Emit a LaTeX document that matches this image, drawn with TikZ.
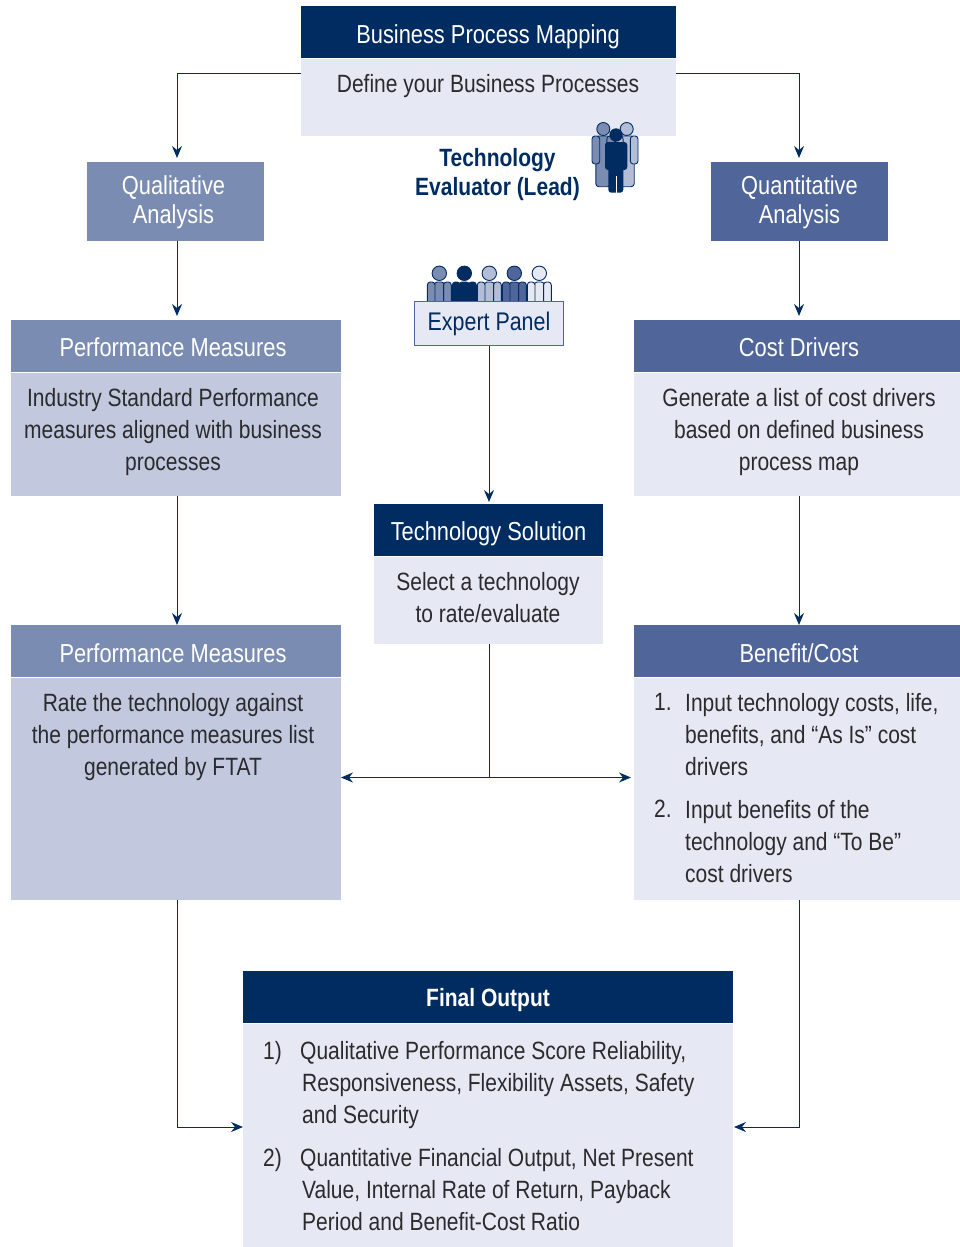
\documentclass[tikz,border=0pt]{standalone}
\usepackage{fontspec}
\setmainfont[FakeStretch=0.84]{Liberation Sans}
\usetikzlibrary{arrows.meta,positioning}
\definecolor{navy}{HTML}{002C62}
\definecolor{midblue}{HTML}{7B8CB3}
\definecolor{deepblue}{HTML}{50669A}
\definecolor{softblue}{HTML}{B3BDD6}
\definecolor{greyblue}{HTML}{C2C9DE}
\definecolor{paleblue}{HTML}{E6E9F3}
\definecolor{ink}{HTML}{2B2B2E}
\tikzset{
	>={Stealth[length=12pt,width=10pt,inset=4pt]},
	box/.style={inner sep=0pt,outer sep=0pt,anchor=center},
	head/.style={text=white,font=\fontsize{26}{29}\selectfont,align=center},
	txt/.style={text=ink,font=\fontsize{25}{32}\selectfont,align=center,inner sep=0pt},
	itemtxt/.style={txt,align=left,anchor=north west},
	conn/.style={draw=navy,line width=1pt},
	figure/.style={draw=navy,line width=0.9pt}
}
% one seated panel member, x of the head centre as #1
\newcommand{\panelman}[2]{
	\filldraw[fill=#2,figure,rounded corners=3pt] (#1-5,282) rectangle (#1+5,308);
	\filldraw[fill=#2,figure,rounded corners=3pt] (#1-12,282) rectangle (#1-4.3,308);
	\filldraw[fill=#2,figure,rounded corners=3pt] (#1+4.3,282) rectangle (#1+12,308);
	\filldraw[fill=#2,figure] (#1,273.3) circle (7.2);
}
% one standing figure of the lead group behind the front one
\newcommand{\leadman}[2]{
	\filldraw[fill=#2,figure,rounded corners=3pt] (#1-7.5,136) rectangle (#1+7.5,186.7);
	\filldraw[fill=#2,figure,rounded corners=3pt] (#1-11.3,136) rectangle (#1-3.6,164);
	\filldraw[fill=#2,figure,rounded corners=3pt] (#1+3.6,136) rectangle (#1+11.3,164);
	\filldraw[fill=#2,figure] (#1,129) circle (6.5);
}
\begin{document}
\begin{tikzpicture}[x=1pt,y=-1pt]
	\useasboundingbox (0,0) rectangle (960,1247);
	% figures go first, the expert panel box covers their feet
	\panelman{439.3}{midblue}
	\panelman{464.3}{navy}
	\panelman{489.3}{softblue}
	\panelman{514.3}{deepblue}
	\panelman{539.3}{paleblue}
	% business process mapping
	\node[box,fill=navy,head,minimum width=375pt,minimum height=52pt] (bpm) at (488.5,32) {};
	\node[head,inner sep=0pt] (bpmt) at (488,37) {Business Process Mapping};
	\node[box,fill=paleblue,minimum width=375pt,minimum height=77pt] (bpmb) at (488.5,97.5) {};
	\node[txt] (bpmbt) at (488,86) {Define your Business Processes};
	% left column
	\node[box,fill=midblue,minimum width=177pt,minimum height=79pt] (qual) at (175.5,201.5) {};
	\node[head,inner sep=0pt] (qualt) at (173.5,202.5) {Qualitative\\Analysis};
	\node[box,fill=midblue,minimum width=330pt,minimum height=52pt] (pma) at (176,346) {};
	\node[head,inner sep=0pt] (pmat) at (173,347) {Performance Measures};
	\node[box,fill=greyblue,minimum width=330pt,minimum height=123pt] (pmab) at (176,434.5) {};
	\node[txt] (pmabt) at (173,432.5) {Industry Standard Performance\\measures aligned with business\\processes};
	\node[box,fill=midblue,minimum width=330pt,minimum height=52pt] (pmc) at (176,651) {};
	\node[head,inner sep=0pt] (pmct) at (173,653) {Performance Measures};
	\node[box,fill=greyblue,minimum width=330pt,minimum height=222pt] (pmcb) at (176,789) {};
	\node[txt] (pmcbt) at (173,737.5) {Rate the technology against\\the performance measures list\\generated by FTAT};
	% right column
	\node[box,fill=deepblue,minimum width=177pt,minimum height=79pt] (quant) at (799.5,201.5) {};
	\node[head,inner sep=0pt] (quantt) at (799.5,202.5) {Quantitative\\Analysis};
	\node[box,fill=deepblue,minimum width=330pt,minimum height=52pt] (cost) at (799,346) {};
	\node[head,inner sep=0pt] (costt) at (799,347) {Cost Drivers};
	\node[box,fill=paleblue,minimum width=330pt,minimum height=123pt] (costb) at (799,434.5) {};
	\node[txt] (costbt) at (799,432.5) {Generate a list of cost drivers\\based on defined business\\process map};
	\node[box,fill=deepblue,minimum width=330pt,minimum height=52pt] (ben) at (799,651) {};
	\node[head,inner sep=0pt] (bent) at (799,653) {Benefit/Cost};
	\node[box,fill=paleblue,minimum width=330pt,minimum height=222pt] (benb) at (799,789) {};
	\node[itemtxt] (bena) at (654,693) {1.};
	\node[itemtxt] (benat) at (685,693) {Input technology costs, life,\\benefits, and “As Is” cost\\drivers};
	\node[itemtxt] (benc) at (654,800) {2.};
	\node[itemtxt] (benct) at (685,800) {Input benefits of the\\technology and “To Be”\\cost drivers};
	% centre column
	\node[txt,text=navy,font=\fontsize{25}{29}\selectfont\bfseries] (lead) at (497.5,175) {Technology\\Evaluator (Lead)};
	\leadman{603.3}{midblue}
	\leadman{626.7}{softblue}
	\fill[navy,rounded corners=3pt] (605,142) rectangle (627.3,170);
	\fill[navy,rounded corners=3pt] (608.3,150) rectangle (623.3,192.7);
	\draw[white,line width=0.6pt] (615.8,176) -- (615.8,192.7);
	\fill[navy] (616,135) circle (6.7);
	\node[box,fill=paleblue,draw=deepblue,line width=1pt,text=navy,font=\fontsize{25.5}{32}\selectfont,minimum width=149pt,minimum height=44pt] (panel) at (489,323.5) {Expert Panel};
	\node[box,fill=navy,minimum width=229pt,minimum height=52pt] (tech) at (488.5,530) {};
	\node[head,inner sep=0pt] (techt) at (488.5,533.5) {Technology Solution};
	\node[box,fill=paleblue,minimum width=229pt,minimum height=87pt] (techb) at (488.5,600.5) {};
	\node[txt] (techbt) at (488,597.5) {Select a technology\\to rate/evaluate};
	% final output
	\node[box,fill=navy,minimum width=490pt,minimum height=52pt] (final) at (488,997) {};
	\node[head,inner sep=0pt,font=\fontsize{25}{32}\selectfont\bfseries] (finalt) at (488,1000) {Final Output};
	\node[box,fill=paleblue,minimum width=490pt,minimum height=223pt] (finalb) at (488,1135.5) {};
	\node[itemtxt] (fina) at (263,1041.5) {1)};
	\node[itemtxt] (finat) at (300,1041.5) {Qualitative Performance Score Reliability,\\\hspace*{2pt}Responsiveness, Flexibility Assets, Safety\\\hspace*{2pt}and Security};
	\node[itemtxt] (finc) at (263,1148) {2)};
	\node[itemtxt] (finct) at (300,1148) {Quantitative Financial Output, Net Present\\\hspace*{2pt}Value, Internal Rate of Return, Payback\\\hspace*{2pt}Period and Benefit-Cost Ratio};
	% connectors
	\coordinate (bpml) at (301,73);
	\coordinate (bpmr) at (676,73);
	\coordinate (split) at (489,777.5);
	\coordinate (finl) at (243,1127);
	\coordinate (finr) at (734,1127);
	\draw[conn,->,shorten >=4pt] (bpml) -| ([xshift=1.5pt]qual.north);
	\draw[conn,->,shorten >=4pt] (bpmr) -| ([xshift=-.5pt]quant.north);
	\draw[conn,->,shorten >=4pt] ([xshift=1.5pt]qual.south) -- ([xshift=1pt]pma.north);
	\draw[conn,->,shorten >=4pt] ([xshift=-.5pt]quant.south) -- (cost.north);
	\draw[conn,->] ([xshift=1pt]pmab.south) -- ([xshift=1pt]pmc.north);
	\draw[conn,->] (costb.south) -- (ben.north);
	\draw[conn,->,shorten >=2pt] (panel.south) -- ([xshift=.5pt]tech.north);
	\draw[conn] ([xshift=.5pt]techb.south) -- (split);
	\draw[conn,->] (split) -- (split -| pmcb.east);
	\draw[conn,->,shorten >=3pt] (split) -- (split -| benb.west);
	\draw[conn,->] ([xshift=1pt]pmcb.south) |- (finl);
	\draw[conn,->] (benb.south) |- (finr);
\end{tikzpicture}
\end{document}
